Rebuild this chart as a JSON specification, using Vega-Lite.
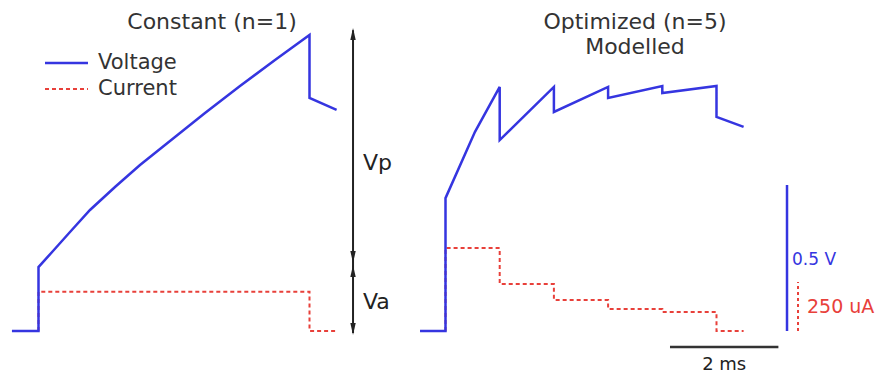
{
  "$schema": "https://vega.github.io/schema/vega-lite/v6.json",
  "padding": 0,
  "spacing": 0,
  "bounds": "flush",
  "background": "white",
  "config": {"view": {"stroke": null}, "text": {"font": "DejaVu Sans"}},
  "datasets": {
    "leftVoltage": [
      {"k": 0, "t": -0.49, "v": 0},
      {"k": 1, "t": 0, "v": 0},
      {"k": 2, "t": 0, "v": 0.219},
      {"k": 3, "t": 0.2675, "v": 0.274},
      {"k": 4, "t": 0.5812, "v": 0.339},
      {"k": 5, "t": 0.9502, "v": 0.4144},
      {"k": 6, "t": 1.4114, "v": 0.4932},
      {"k": 7, "t": 1.8727, "v": 0.5685},
      {"k": 8, "t": 2.4262, "v": 0.6507},
      {"k": 9, "t": 3.072, "v": 0.7466},
      {"k": 10, "t": 3.7177, "v": 0.839},
      {"k": 11, "t": 4.3635, "v": 0.9281},
      {"k": 12, "t": 5.0, "v": 1.0137},
      {"k": 13, "t": 5.0, "v": 0.798},
      {"k": 14, "t": 5.5, "v": 0.757}
    ],
    "leftCurrent": [
      {"k": 0, "t": 0, "i": 0},
      {"k": 1, "t": 0, "i": 200},
      {"k": 2, "t": 5, "i": 200},
      {"k": 3, "t": 5, "i": 0},
      {"k": 4, "t": 5.5, "i": 0}
    ],
    "rightVoltage": [
      {"k": 0, "t": -0.47, "v": 0},
      {"k": 1, "t": 0, "v": 0},
      {"k": 2, "t": 0, "v": 0.455},
      {"k": 3, "t": 0.544, "v": 0.682},
      {"k": 4, "t": 1.0, "v": 0.836},
      {"k": 5, "t": 1.0, "v": 0.654},
      {"k": 6, "t": 2.0, "v": 0.836},
      {"k": 7, "t": 2.0, "v": 0.75},
      {"k": 8, "t": 3.0, "v": 0.836},
      {"k": 9, "t": 3.0, "v": 0.798},
      {"k": 10, "t": 4.0, "v": 0.839},
      {"k": 11, "t": 4.0, "v": 0.815},
      {"k": 12, "t": 5.0, "v": 0.839},
      {"k": 13, "t": 5.0, "v": 0.733},
      {"k": 14, "t": 5.5, "v": 0.699}
    ],
    "rightCurrent": [
      {"k": 0, "t": 0, "i": 0},
      {"k": 1, "t": 0, "i": 423},
      {"k": 2, "t": 1, "i": 423},
      {"k": 3, "t": 1, "i": 240},
      {"k": 4, "t": 2, "i": 240},
      {"k": 5, "t": 2, "i": 158},
      {"k": 6, "t": 3, "i": 158},
      {"k": 7, "t": 3, "i": 112},
      {"k": 8, "t": 4, "i": 112},
      {"k": 9, "t": 4, "i": 97},
      {"k": 10, "t": 5, "i": 97},
      {"k": 11, "t": 5, "i": 0},
      {"k": 12, "t": 5.5, "i": 0}
    ]
  },
  "hconcat": [
    {
      "width": 420,
      "height": 376,
      "resolve": {"scale": {"y": "independent"}},
      "layer": [
        {
          "data": {"name": "leftCurrent"},
          "mark": {"type": "line", "color": "#e8403a", "strokeWidth": 2, "strokeDash": [4, 3]},
          "encoding": {
            "x": {"field": "t", "type": "quantitative", "scale": {"domain": [-0.7103, 7.0387], "nice": false, "zero": false}, "axis": null},
            "y": {"field": "i", "type": "quantitative", "scale": {"domain": [-229.59, 1688.78], "nice": false, "zero": false}, "axis": null},
            "order": {"field": "k", "type": "quantitative"}
          }
        },
        {
          "data": {"name": "leftVoltage"},
          "mark": {"type": "line", "color": "#3535e0", "strokeWidth": 2.5},
          "encoding": {
            "x": {"field": "t", "type": "quantitative", "scale": {"domain": [-0.7103, 7.0387], "nice": false, "zero": false}, "axis": null},
            "y": {"field": "v", "type": "quantitative", "scale": {"domain": [-0.15411, 1.13356], "nice": false, "zero": false}, "axis": null},
            "order": {"field": "k", "type": "quantitative"}
          }
        },
        {
          "data": {"values": [{}]},
          "mark": {"type": "rule", "color": "#3535e0", "strokeWidth": 2.5},
          "encoding": {
            "x": {"datum": 0.12, "type": "quantitative", "scale": {"domain": [-0.7103, 7.0387], "nice": false, "zero": false}, "axis": null},
            "x2": {"datum": 0.913},
            "y": {"datum": 0.9178, "type": "quantitative", "scale": {"domain": [-0.15411, 1.13356], "nice": false, "zero": false}, "axis": null}
          }
        },
        {
          "data": {"values": [{}]},
          "mark": {"type": "rule", "color": "#e8403a", "strokeWidth": 2, "strokeDash": [4, 3]},
          "encoding": {
            "x": {"datum": 0.12, "type": "quantitative", "scale": {"domain": [-0.7103, 7.0387], "nice": false, "zero": false}, "axis": null},
            "x2": {"datum": 0.913},
            "y": {"datum": 0.8288, "type": "quantitative", "scale": {"domain": [-0.15411, 1.13356], "nice": false, "zero": false}, "axis": null}
          }
        },
        {
          "data": {"values": [{}]},
          "mark": {"type": "text", "text": "Voltage", "align": "left", "baseline": "middle", "fontSize": 21, "color": "#333"},
          "encoding": {
            "x": {"datum": 1.098, "type": "quantitative", "scale": {"domain": [-0.7103, 7.0387], "nice": false, "zero": false}, "axis": null},
            "y": {"datum": 0.9178, "type": "quantitative", "scale": {"domain": [-0.15411, 1.13356], "nice": false, "zero": false}, "axis": null}
          }
        },
        {
          "data": {"values": [{}]},
          "mark": {"type": "text", "text": "Current", "align": "left", "baseline": "middle", "fontSize": 21, "color": "#333"},
          "encoding": {
            "x": {"datum": 1.098, "type": "quantitative", "scale": {"domain": [-0.7103, 7.0387], "nice": false, "zero": false}, "axis": null},
            "y": {"datum": 0.8288, "type": "quantitative", "scale": {"domain": [-0.15411, 1.13356], "nice": false, "zero": false}, "axis": null}
          }
        },
        {
          "data": {"values": [{}]},
          "mark": {"type": "text", "text": "Constant (n=1)", "align": "center", "baseline": "middle", "fontSize": 22, "color": "#333"},
          "encoding": {
            "x": {"datum": 3.201, "type": "quantitative", "scale": {"domain": [-0.7103, 7.0387], "nice": false, "zero": false}, "axis": null},
            "y": {"datum": 1.0582, "type": "quantitative", "scale": {"domain": [-0.15411, 1.13356], "nice": false, "zero": false}, "axis": null}
          }
        },
        {
          "data": {"values": [{}]},
          "mark": {"type": "rule", "color": "#222", "strokeWidth": 2},
          "encoding": {
            "x": {"datum": 5.803, "type": "quantitative", "scale": {"domain": [-0.7103, 7.0387], "nice": false, "zero": false}, "axis": null},
            "y": {"datum": 1.03, "type": "quantitative", "scale": {"domain": [-0.15411, 1.13356], "nice": false, "zero": false}, "axis": null},
            "y2": {"datum": -0.007}
          }
        },
        {
          "data": {"values": [{}]},
          "mark": {"type": "point", "shape": "M0,-1L0.45,1L-0.45,1Z", "filled": true, "color": "#222", "opacity": 1, "size": 144},
          "encoding": {
            "x": {"datum": 5.803, "type": "quantitative", "scale": {"domain": [-0.7103, 7.0387], "nice": false, "zero": false}, "axis": null},
            "y": {"datum": 1.0171, "type": "quantitative", "scale": {"domain": [-0.15411, 1.13356], "nice": false, "zero": false}, "axis": null}
          }
        },
        {
          "data": {"values": [{}]},
          "mark": {"type": "point", "shape": "M0,1L0.45,-1L-0.45,-1Z", "filled": true, "color": "#222", "opacity": 1, "size": 144},
          "encoding": {
            "x": {"datum": 5.803, "type": "quantitative", "scale": {"domain": [-0.7103, 7.0387], "nice": false, "zero": false}, "axis": null},
            "y": {"datum": 0.2534, "type": "quantitative", "scale": {"domain": [-0.15411, 1.13356], "nice": false, "zero": false}, "axis": null}
          }
        },
        {
          "data": {"values": [{}]},
          "mark": {"type": "point", "shape": "M0,-1L0.45,1L-0.45,1Z", "filled": true, "color": "#222", "opacity": 1, "size": 144},
          "encoding": {
            "x": {"datum": 5.803, "type": "quantitative", "scale": {"domain": [-0.7103, 7.0387], "nice": false, "zero": false}, "axis": null},
            "y": {"datum": 0.2055, "type": "quantitative", "scale": {"domain": [-0.15411, 1.13356], "nice": false, "zero": false}, "axis": null}
          }
        },
        {
          "data": {"values": [{}]},
          "mark": {"type": "point", "shape": "M0,1L0.45,-1L-0.45,-1Z", "filled": true, "color": "#222", "opacity": 1, "size": 144},
          "encoding": {
            "x": {"datum": 5.803, "type": "quantitative", "scale": {"domain": [-0.7103, 7.0387], "nice": false, "zero": false}, "axis": null},
            "y": {"datum": 0.00685, "type": "quantitative", "scale": {"domain": [-0.15411, 1.13356], "nice": false, "zero": false}, "axis": null}
          }
        },
        {
          "data": {"values": [{}]},
          "mark": {"type": "text", "text": "Vp", "align": "left", "baseline": "middle", "fontSize": 22, "color": "#222"},
          "encoding": {
            "x": {"datum": 5.987, "type": "quantitative", "scale": {"domain": [-0.7103, 7.0387], "nice": false, "zero": false}, "axis": null},
            "y": {"datum": 0.5753, "type": "quantitative", "scale": {"domain": [-0.15411, 1.13356], "nice": false, "zero": false}, "axis": null}
          }
        },
        {
          "data": {"values": [{}]},
          "mark": {"type": "text", "text": "Va", "align": "left", "baseline": "middle", "fontSize": 22, "color": "#222"},
          "encoding": {
            "x": {"datum": 5.987, "type": "quantitative", "scale": {"domain": [-0.7103, 7.0387], "nice": false, "zero": false}, "axis": null},
            "y": {"datum": 0.0993, "type": "quantitative", "scale": {"domain": [-0.15411, 1.13356], "nice": false, "zero": false}, "axis": null}
          }
        }
      ]
    },
    {
      "width": 457,
      "height": 376,
      "resolve": {"scale": {"y": "independent"}},
      "layer": [
        {
          "data": {"name": "rightCurrent"},
          "mark": {"type": "line", "color": "#e8403a", "strokeWidth": 2, "strokeDash": [4, 3]},
          "encoding": {
            "x": {"field": "t", "type": "quantitative", "scale": {"domain": [-0.4705, 7.9613], "nice": false, "zero": false}, "axis": null},
            "y": {"field": "i", "type": "quantitative", "scale": {"domain": [-229.59, 1688.78], "nice": false, "zero": false}, "axis": null},
            "order": {"field": "k", "type": "quantitative"}
          }
        },
        {
          "data": {"name": "rightVoltage"},
          "mark": {"type": "line", "color": "#3535e0", "strokeWidth": 2.5},
          "encoding": {
            "x": {"field": "t", "type": "quantitative", "scale": {"domain": [-0.4705, 7.9613], "nice": false, "zero": false}, "axis": null},
            "y": {"field": "v", "type": "quantitative", "scale": {"domain": [-0.15411, 1.13356], "nice": false, "zero": false}, "axis": null},
            "order": {"field": "k", "type": "quantitative"}
          }
        },
        {
          "data": {"values": [{}]},
          "mark": {"type": "text", "text": "Optimized (n=5)", "align": "center", "baseline": "middle", "fontSize": 22, "color": "#333"},
          "encoding": {
            "x": {"datum": 3.496, "type": "quantitative", "scale": {"domain": [-0.4705, 7.9613], "nice": false, "zero": false}, "axis": null},
            "y": {"datum": 1.0582, "type": "quantitative", "scale": {"domain": [-0.15411, 1.13356], "nice": false, "zero": false}, "axis": null}
          }
        },
        {
          "data": {"values": [{}]},
          "mark": {"type": "text", "text": "Modelled", "align": "center", "baseline": "middle", "fontSize": 22, "color": "#333"},
          "encoding": {
            "x": {"datum": 3.496, "type": "quantitative", "scale": {"domain": [-0.4705, 7.9613], "nice": false, "zero": false}, "axis": null},
            "y": {"datum": 0.9726, "type": "quantitative", "scale": {"domain": [-0.15411, 1.13356], "nice": false, "zero": false}, "axis": null}
          }
        },
        {
          "data": {"values": [{}]},
          "mark": {"type": "rule", "color": "#3535e0", "strokeWidth": 2.5},
          "encoding": {
            "x": {"datum": 6.301, "type": "quantitative", "scale": {"domain": [-0.4705, 7.9613], "nice": false, "zero": false}, "axis": null},
            "y": {"datum": 0, "type": "quantitative", "scale": {"domain": [-0.15411, 1.13356], "nice": false, "zero": false}, "axis": null},
            "y2": {"datum": 0.5}
          }
        },
        {
          "data": {"values": [{}]},
          "mark": {"type": "rule", "color": "#e8403a", "strokeWidth": 2, "strokeDash": [3, 3]},
          "encoding": {
            "x": {"datum": 6.504, "type": "quantitative", "scale": {"domain": [-0.4705, 7.9613], "nice": false, "zero": false}, "axis": null},
            "y": {"datum": 0, "type": "quantitative", "scale": {"domain": [-229.59, 1688.78], "nice": false, "zero": false}, "axis": null},
            "y2": {"datum": 250}
          }
        },
        {
          "data": {"values": [{}]},
          "mark": {"type": "text", "text": "0.5 V", "align": "left", "baseline": "middle", "fontSize": 17, "color": "#3535e0"},
          "encoding": {
            "x": {"datum": 6.393, "type": "quantitative", "scale": {"domain": [-0.4705, 7.9613], "nice": false, "zero": false}, "axis": null},
            "y": {"datum": 0.2432, "type": "quantitative", "scale": {"domain": [-0.15411, 1.13356], "nice": false, "zero": false}, "axis": null}
          }
        },
        {
          "data": {"values": [{}]},
          "mark": {"type": "text", "text": "250 uA", "align": "left", "baseline": "middle", "fontSize": 19, "color": "#e8403a"},
          "encoding": {
            "x": {"datum": 6.67, "type": "quantitative", "scale": {"domain": [-0.4705, 7.9613], "nice": false, "zero": false}, "axis": null},
            "y": {"datum": 0.0822, "type": "quantitative", "scale": {"domain": [-0.15411, 1.13356], "nice": false, "zero": false}, "axis": null}
          }
        },
        {
          "data": {"values": [{}]},
          "mark": {"type": "rule", "color": "#333", "strokeWidth": 2.5},
          "encoding": {
            "x": {"datum": 4.142, "type": "quantitative", "scale": {"domain": [-0.4705, 7.9613], "nice": false, "zero": false}, "axis": null},
            "x2": {"datum": 6.142},
            "y": {"datum": -0.0548, "type": "quantitative", "scale": {"domain": [-0.15411, 1.13356], "nice": false, "zero": false}, "axis": null}
          }
        },
        {
          "data": {"values": [{}]},
          "mark": {"type": "text", "text": "2 ms", "align": "center", "baseline": "top", "fontSize": 18, "color": "#222"},
          "encoding": {
            "x": {"datum": 5.142, "type": "quantitative", "scale": {"domain": [-0.4705, 7.9613], "nice": false, "zero": false}, "axis": null},
            "y": {"datum": -0.0856, "type": "quantitative", "scale": {"domain": [-0.15411, 1.13356], "nice": false, "zero": false}, "axis": null}
          }
        }
      ]
    }
  ]
}
